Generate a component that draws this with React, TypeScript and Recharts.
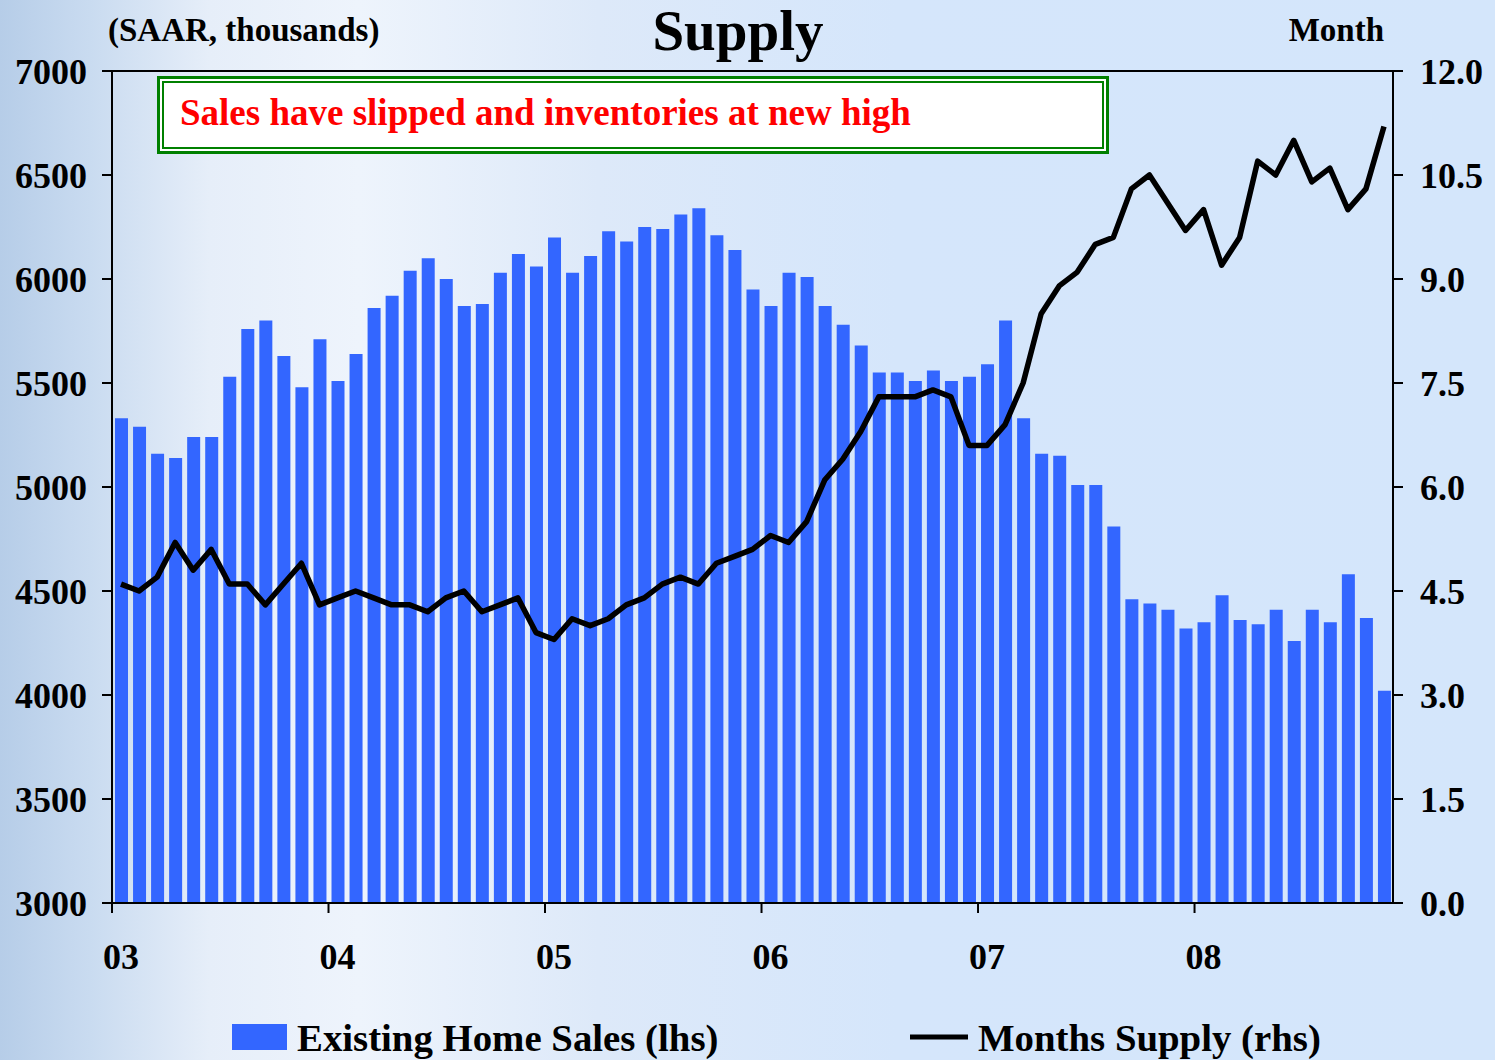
import React from "react";
import {
  ComposedChart,
  Bar,
  Line,
  XAxis,
  YAxis,
  CartesianGrid,
} from "recharts";

// monthly, Jan 2003 .. Nov 2008
const sales = [
  5330, 5290, 5160, 5140, 5240, 5240, 5530, 5760, 5800, 5630, 5480, 5710,
  5510, 5640, 5860, 5920, 6040, 6100, 6000, 5870, 5880, 6030, 6120, 6060,
  6200, 6030, 6110, 6230, 6180, 6250, 6240, 6310, 6340, 6210, 6140, 5950,
  5870, 6030, 6010, 5870, 5780, 5680, 5550, 5550, 5510, 5560, 5510, 5530,
  5590, 5800, 5330, 5160, 5150, 5010, 5010, 4810, 4460, 4440, 4410, 4320,
  4350, 4480, 4360, 4340, 4410, 4260, 4410, 4350, 4580, 4370, 4020,
];

const supply = [
  4.6, 4.5, 4.7, 5.2, 4.8, 5.1, 4.6, 4.6, 4.3, 4.6, 4.9, 4.3,
  4.4, 4.5, 4.4, 4.3, 4.3, 4.2, 4.4, 4.5, 4.2, 4.3, 4.4, 3.9,
  3.8, 4.1, 4.0, 4.1, 4.3, 4.4, 4.6, 4.7, 4.6, 4.9, 5.0, 5.1,
  5.3, 5.2, 5.5, 6.1, 6.4, 6.8, 7.3, 7.3, 7.3, 7.4, 7.3, 6.6,
  6.6, 6.9, 7.5, 8.5, 8.9, 9.1, 9.5, 9.6, 10.3, 10.5, 10.1, 9.7,
  10.0, 9.2, 9.6, 10.7, 10.5, 11.0, 10.4, 10.6, 10.0, 10.3, 11.2,
];

const yearTicks = [0, 12, 24, 36, 48, 60];
const yearLabels = ["03", "04", "05", "06", "07", "08"];
const leftTicks = [3000, 3500, 4000, 4500, 5000, 5500, 6000, 6500, 7000];
const rightTicks = [0, 1.5, 3, 4.5, 6, 7.5, 9, 10.5, 12];

const data = sales.map((s, i) => ({ x: i + 0.5, sales: s, supply: supply[i] }));

const FONT = "'Liberation Serif', 'Times New Roman', serif";
const tickStyle = { fill: "#000", fontSize: 36, fontWeight: "bold", fontFamily: FONT };

const YearTick = (props: any) => {
  const { x, y, payload } = props;
  const idx = yearTicks.indexOf(payload.value);
  return (
    <text x={x + 9} y={y} dy="0.71em" textAnchor="middle" {...tickStyle}>
      {yearLabels[idx]}
    </text>
  );
};

export default function App() {
  return (
    <div
      style={{
        position: "absolute",
        left: 0,
        top: 0,
        width: 1495,
        height: 1060,
        overflow: "hidden",
        background:
          "linear-gradient(90deg, #b6cde8 0%, #c9dbf0 6%, #e6eef9 14%, #eef4fc 24%, #dde9f9 40%, #d5e6fb 60%, #d4e6fb 100%)",
      }}
    >
      <ComposedChart
        width={1495}
        height={1060}
        data={data}
        margin={{ top: 71, right: 0, bottom: 0, left: 0 }}
      >
        <CartesianGrid vertical={false} stroke="#000" strokeWidth={2} strokeOpacity={1} />
        <XAxis
          dataKey="x"
          type="number"
          domain={[0, 71]}
          ticks={yearTicks}
          height={157}
          tickSize={10}
          tickMargin={30}
          tick={<YearTick />}
          axisLine={{ stroke: "#000", strokeWidth: 2 }}
          tickLine={{ stroke: "#000", strokeWidth: 2 }}
          allowDataOverflow
        />
        <YAxis
          yAxisId="left"
          domain={[3000, 7000]}
          ticks={leftTicks}
          width={112}
          tickSize={10}
          tickMargin={15}
          tick={tickStyle}
          axisLine={{ stroke: "#000", strokeWidth: 2 }}
          tickLine={{ stroke: "#000", strokeWidth: 2 }}
          allowDataOverflow
        />
        <YAxis
          yAxisId="right"
          orientation="right"
          domain={[0, 12]}
          ticks={rightTicks}
          tickFormatter={(v: number) => v.toFixed(1)}
          width={102}
          tickSize={10}
          tickMargin={17}
          tick={{ ...tickStyle, textAnchor: "start" }}
          axisLine={{ stroke: "#000", strokeWidth: 2 }}
          tickLine={{ stroke: "#000", strokeWidth: 2 }}
        />
        <Bar
          yAxisId="left"
          dataKey="sales"
          fill="#3366ff"
          barSize={13}
          isAnimationActive={false}
        />
        <Line
          yAxisId="right"
          dataKey="supply"
          type="linear"
          stroke="#000"
          strokeWidth={5.5}
          strokeLinejoin="round"
          dot={false}
          isAnimationActive={false}
        />
      </ComposedChart>

      <svg
        width={1495}
        height={1060}
        style={{ position: "absolute", left: 0, top: 0, pointerEvents: "none" }}
        fontFamily={FONT}
        fontWeight="bold"
      >
        <text x={108} y={41} fontSize={33} fill="#000">(SAAR, thousands)</text>
        <text x={738} y={50} fontSize={57} fill="#000" textAnchor="middle">Supply</text>
        <text x={1384} y={41} fontSize={33} fill="#000" textAnchor="end">Month</text>

        {/* annotation box */}
        <rect x={158.5} y={77.5} width={949} height={75} fill="#fff" stroke="#008000" strokeWidth={3} />
        <rect x={163} y={82} width={940} height={66} fill="none" stroke="#008000" strokeWidth={2} />
        <text x={180} y={125} fontSize={37} fill="#ff0000">
          Sales have slipped and inventories at new high
        </text>

        {/* legend */}
        <rect x={232} y={1024} width={55} height={26} fill="#3366ff" />
        <text x={297} y={1051} fontSize={38.8} fill="#000">Existing Home Sales (lhs)</text>
        <line x1={910} x2={968} y1={1037} y2={1037} stroke="#000" strokeWidth={5} />
        <text x={978} y={1051} fontSize={38.8} fill="#000">Months Supply (rhs)</text>
      </svg>
    </div>
  );
}
